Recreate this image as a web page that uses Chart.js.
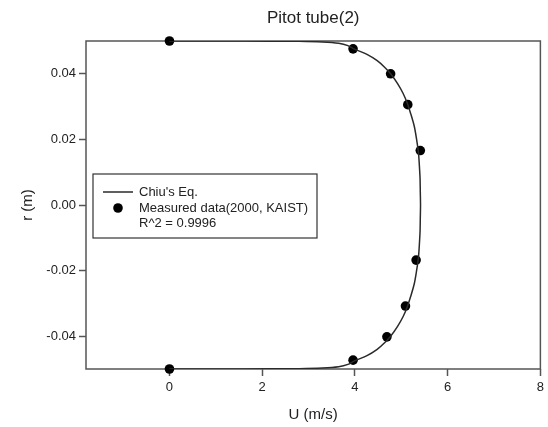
<!DOCTYPE html>
<html>
<head>
<meta charset="utf-8">
<script src="https://cdn.jsdelivr.net/npm/chart.js@4.4.1/dist/chart.umd.min.js"></script>
<style>
  html, body { margin: 0; padding: 0; background: #fff; }
  #wrap { width: 548px; height: 427px; }
</style>
</head>
<body>
<div id="wrap"><canvas id="profileChart"></canvas></div>
<script>
// Chiu's equation velocity profile, U (m/s) against r (m)
const curveR = [0.05, 0.04999, 0.04995, 0.0499, 0.0497, 0.0493, 0.0486, 0.0476, 0.046, 0.044, 0.042,
    0.040, 0.037, 0.034, 0.031, 0.028, 0.024, 0.020, 0.016, 0.012, 0.008, 0.004, 0,
    -0.004, -0.008, -0.012, -0.016, -0.020, -0.024, -0.028, -0.031, -0.034, -0.037, -0.040,
    -0.042, -0.044, -0.046, -0.0476, -0.0486, -0.0493, -0.0497, -0.0499, -0.04995, -0.04999, -0.05];
const curveU = [0, 1.0, 2.2, 2.8, 3.3, 3.65, 3.85, 3.98, 4.25, 4.48, 4.64,
    4.77, 4.92, 5.04, 5.13, 5.20, 5.28, 5.33, 5.37, 5.39, 5.405, 5.41, 5.415,
    5.41, 5.405, 5.39, 5.37, 5.33, 5.28, 5.20, 5.13, 5.04, 4.92, 4.77,
    4.64, 4.48, 4.25, 3.98, 3.85, 3.65, 3.3, 2.8, 2.2, 1.0, 0];

// Measured data (2000, KAIST)
const measR = [0.05, 0.0476, 0.0400, 0.0306, 0.0166, -0.0168, -0.0308, -0.0402, -0.0473, -0.05];
const measU = [0, 3.96, 4.77, 5.14, 5.41, 5.32, 5.09, 4.69, 3.96, 0];

const xTicks = [0, 2, 4, 6, 8];
const yTicks = [0.04, 0.02, 0.00, -0.02, -0.04];
const legendNote = 'R^2 = 0.9996';

const FONT = "'Liberation Sans', Arial, sans-serif";
const TEXT = '#222';
const AXIS = '#555';

const toPoints = (xs, ys) => xs.map((x, i) => ({ x: x, y: ys[i] }));

// frame around the plot area plus the boxed legend
const framePlugin = {
    id: 'frame',
    beforeDatasetsDraw(chart) {
        const { ctx, chartArea: a } = chart;
        ctx.save();
        ctx.strokeStyle = AXIS;
        ctx.lineWidth = 1.5;
        ctx.strokeRect(a.left, a.top, a.right - a.left, a.bottom - a.top);
        ctx.restore();
    },
    afterDraw(chart) {
        const { ctx } = chart;
        ctx.save();

        // legend box
        const lx = 93, ly = 174, lw = 224, lh = 64;
        ctx.fillStyle = '#fff';
        ctx.fillRect(lx, ly, lw, lh);
        ctx.strokeStyle = '#333';
        ctx.lineWidth = 1.2;
        ctx.strokeRect(lx, ly, lw, lh);

        const line = chart.data.datasets[0];
        const dots = chart.data.datasets[1];
        ctx.strokeStyle = line.borderColor;
        ctx.lineWidth = line.borderWidth;
        ctx.beginPath();
        ctx.moveTo(lx + 10, ly + 18);
        ctx.lineTo(lx + 40, ly + 18);
        ctx.stroke();

        ctx.fillStyle = dots.backgroundColor;
        ctx.beginPath();
        ctx.arc(lx + 25, ly + 34, dots.pointRadius, 0, Math.PI * 2);
        ctx.fill();

        ctx.fillStyle = TEXT;
        ctx.font = '13px ' + FONT;
        ctx.textBaseline = 'middle';
        ctx.fillText(line.label, lx + 46, ly + 18);
        ctx.fillText(dots.label, lx + 46, ly + 34);
        ctx.fillText(legendNote, lx + 46, ly + 49);
        ctx.restore();
    }
};

const ctx = document.getElementById('profileChart').getContext('2d');
const chart = new Chart(ctx, {
    type: 'scatter',
    data: {
        datasets: [{
            label: "Chiu's Eq.",
            data: toPoints(curveU, curveR),
            showLine: true,
            borderColor: '#2a2a2a',
            borderWidth: 1.5,
            tension: 0.3,
            pointRadius: 0,
            fill: false
        }, {
            label: 'Measured data(2000, KAIST)',
            data: toPoints(measU, measR),
            backgroundColor: '#000',
            borderWidth: 0,
            pointRadius: 4.8,
            clip: false
        }]
    },
    options: {
        responsive: true,
        maintainAspectRatio: false,
        animation: false,
        layout: { padding: { left: 0, right: 6, top: 0, bottom: 0 } },
        plugins: {
            legend: { display: false },
            tooltip: { enabled: false },
            title: {
                display: true,
                text: 'Pitot tube(2)',
                fullSize: false,
                color: TEXT,
                font: { family: FONT, size: 17, weight: 'normal', lineHeight: 1.2 },
                padding: { top: 8, bottom: 12.6 }
            }
        },
        scales: {
            x: {
                type: 'linear',
                min: -1.8,
                max: 8,
                afterBuildTicks: s => { s.ticks = xTicks.map(v => ({ value: v })); },
                afterFit: s => { s.height = 58; },
                grid: { drawOnChartArea: false, drawTicks: true, tickLength: 7, tickColor: AXIS, tickWidth: 1.5 },
                border: { display: false },
                ticks: { color: TEXT, padding: 4, font: { family: FONT, size: 13 }, callback: v => String(v) },
                title: {
                    display: true, text: 'U (m/s)', color: TEXT,
                    font: { family: FONT, size: 15, lineHeight: 1.2 },
                    padding: { top: 0, bottom: 3 }
                }
            },
            y: {
                type: 'linear',
                min: -0.05,
                max: 0.05,
                afterBuildTicks: s => { s.ticks = yTicks.map(v => ({ value: v })); },
                afterFit: s => { s.width = 86; },
                grid: { drawOnChartArea: false, drawTicks: true, tickLength: 7, tickColor: AXIS, tickWidth: 1.5 },
                border: { display: false },
                ticks: { color: TEXT, padding: 3, font: { family: FONT, size: 13 }, callback: v => v.toFixed(2) },
                title: {
                    display: true, text: 'r (m)', color: TEXT,
                    font: { family: FONT, size: 15, lineHeight: 1.2 },
                    padding: { top: 19, bottom: 0 }
                }
            }
        }
    },
    plugins: [framePlugin]
});
</script>
</body>
</html>
